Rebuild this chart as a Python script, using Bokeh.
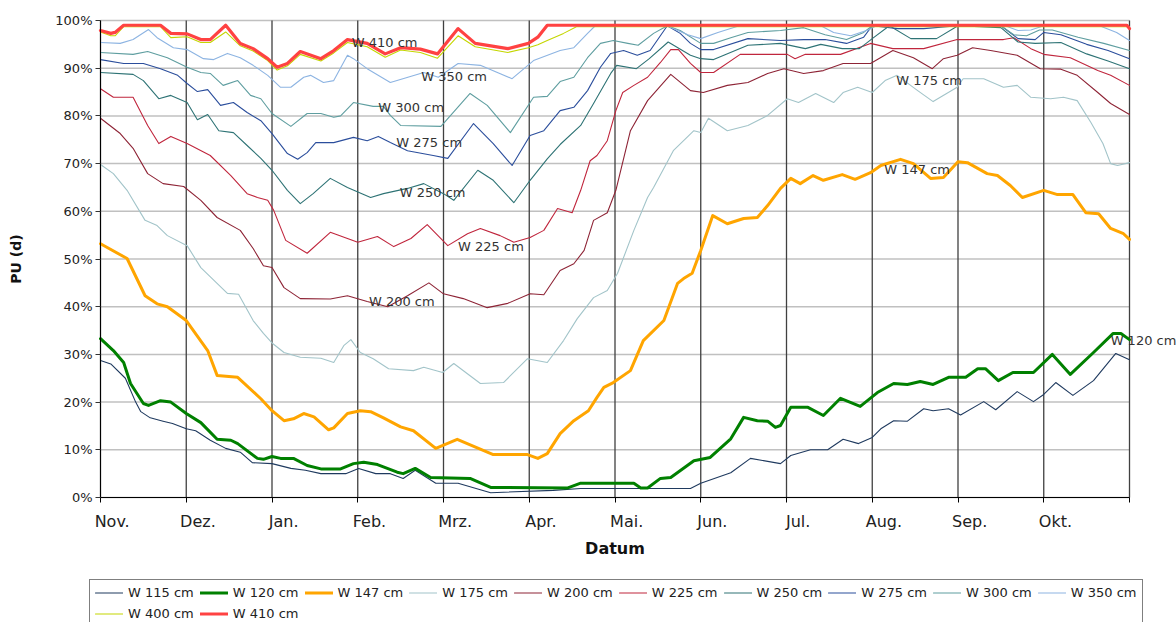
from bokeh.plotting import figure
from bokeh.models import (Range1d, FixedTicker, CustomJSTickFormatter, PrintfTickFormatter,
                          Legend, LegendItem, LabelSet, ColumnDataSource)
from bokeh.core.properties import value
from bokeh.embed import file_html
from bokeh.resources import INLINE

# ---------------- data (x = months since 1 Nov, y = percent) ----------------
months = ["Nov.", "Dez.", "Jan.", "Feb.", "Mrz.", "Apr.", "Mai.", "Jun.", "Jul.", "Aug.", "Sep.", "Okt."]
y_ticks = [0, 10, 20, 30, 40, 50, 60, 70, 80, 90, 100]

names = ["W 115 cm", "W 120 cm", "W 147 cm", "W 175 cm", "W 200 cm", "W 225 cm",
         "W 250 cm", "W 275 cm", "W 300 cm", "W 350 cm", "W 400 cm", "W 410 cm"]

x115 = [0, 0.12, 0.29, 0.41, 0.47, 0.58, 0.73, 0.84, 1.0, 1.11, 1.28, 1.46, 1.63, 1.77, 2.0, 2.22, 2.39, 2.57,
        2.86, 3.01, 3.21, 3.38, 3.53, 3.67, 3.91, 4.17, 4.55, 5.28, 5.6, 6.88, 7.0, 7.35, 7.58, 7.93, 8.05, 8.28,
        8.48, 8.66, 8.84, 9.0, 9.1, 9.25, 9.41, 9.6, 9.71, 9.89, 10.03, 10.3, 10.44, 10.69, 10.88, 11.0, 11.14,
        11.34, 11.58, 11.84, 12.0]
y115 = [28.7, 28, 25, 20, 18, 16.7, 16, 15.5, 14.4, 14, 12, 10.3, 9.5, 7.3, 7.1, 6.1, 5.7, 5, 5, 6.1, 5, 5, 4,
        5.7, 3, 3, 1, 1.5, 1.9, 1.9, 3, 5.2, 8.2, 7.1, 8.8, 10, 10, 12.2, 11.3, 12.6, 14.4, 16.1, 16, 18.6, 18.2,
        18.6, 17.3, 20.1, 18.4, 22.2, 20.1, 21.6, 24.1, 21.4, 24.5, 30.2, 28.9]

x120 = [0, 0.15, 0.27, 0.35, 0.5, 0.56, 0.7, 0.82, 1.0, 1.17, 1.36, 1.52, 1.6, 1.83, 1.9, 2.0, 2.1, 2.25, 2.41,
        2.57, 2.8, 2.95, 3.07, 3.23, 3.46, 3.53, 3.67, 3.85, 4.31, 4.55, 5.45, 5.6, 6.22, 6.3, 6.38, 6.53, 6.65,
        6.92, 7.11, 7.35, 7.5, 7.66, 7.78, 7.87, 7.93, 8.05, 8.25, 8.43, 8.63, 8.86, 9.06, 9.25, 9.41, 9.56, 9.71,
        9.89, 10.09, 10.23, 10.32, 10.47, 10.64, 10.88, 11.1, 11.31, 11.58, 11.81, 11.9, 12.0]
y120 = [33.3, 30.8, 28.3, 23.9, 19.7, 19.3, 20.3, 20, 17.6, 15.7, 12.2, 12, 11.3, 8.2, 8, 8.6, 8.2, 8.2, 6.7, 6,
        6, 7.1, 7.4, 6.9, 5.3, 5, 6.1, 4.2, 4, 2.1, 2, 3, 3, 2, 2, 4, 4.2, 7.7, 8.4, 12.3, 16.8, 16.1, 16, 14.7,
        15.1, 18.9, 18.9, 17.2, 20.8, 19.1, 22, 23.9, 23.7, 24.3, 23.7, 25.2, 25.2, 27, 27, 24.5, 26.2, 26.2, 30,
        25.8, 30.4, 34.4, 34.4, 33.1]

x147 = [0, 0.31, 0.52, 0.66, 0.78, 1.0, 1.25, 1.36, 1.6, 1.87, 2.0, 2.14, 2.25, 2.37, 2.49, 2.66, 2.72, 2.88,
        3.03, 3.15, 3.3, 3.5, 3.65, 3.91, 4.16, 4.58, 4.98, 5.1, 5.21, 5.36, 5.52, 5.69, 5.79, 5.87, 5.98, 6.18,
        6.33, 6.57, 6.73, 6.8, 6.9, 7.0, 7.14, 7.31, 7.5, 7.66, 7.78, 7.93, 8.05, 8.16, 8.31, 8.43, 8.65, 8.8,
        8.98, 9.1, 9.33, 9.48, 9.68, 9.83, 10.0, 10.11, 10.34, 10.46, 10.61, 10.75, 11.0, 11.16, 11.34, 11.49,
        11.64, 11.78, 11.93, 12.0]
y147 = [53.2, 50.1, 42.3, 40.6, 40, 37.1, 30.8, 25.6, 25.2, 20.7, 18.2, 16.1, 16.5, 17.6, 16.9, 14.2, 14.6, 17.6,
        18.2, 18, 16.7, 14.8, 14, 10.3, 12.2, 9, 9, 8.2, 9.2, 13.4, 16.1, 18.2, 21, 23.1, 24.1, 26.6, 32.9, 37.1,
        44.9, 45.9, 47, 51.8, 59.1, 57.4, 58.5, 58.7, 61.2, 64.8, 66.9, 65.8, 67.5, 66.5, 67.7, 66.7, 68.1, 69.6,
        70.9, 70, 66.9, 67.1, 70.4, 70.2, 67.9, 67.5, 65.4, 62.9, 64.4, 63.5, 63.5, 59.7, 59.5, 56.4, 55.3, 54.1]

x175 = [0, 0.15, 0.31, 0.52, 0.66, 0.78, 1.01, 1.17, 1.48, 1.61, 1.78, 1.9, 2.0, 2.14, 2.33, 2.57, 2.72, 2.84,
        2.92, 3.03, 3.18, 3.36, 3.65, 3.77, 3.99, 4.12, 4.43, 4.7, 4.98, 5.21, 5.4, 5.56, 5.75, 5.91, 6.03, 6.22,
        6.38, 6.45, 6.68, 6.92, 7.0, 7.09, 7.31, 7.55, 7.78, 8.01, 8.14, 8.34, 8.55, 8.66, 8.83, 9.0, 9.15, 9.29,
        9.53, 9.71, 9.99, 10.06, 10.3, 10.53, 10.69, 10.85, 11.08, 11.23, 11.39, 11.55, 11.69, 11.78, 11.86, 12.0]
y175 = [69.8, 67.9, 64.4, 58.1, 57, 54.9, 52.8, 48.2, 42.8, 42.6, 37.1, 34.4, 32.4, 30.4, 29.4, 29.2, 28.3, 31.9,
        33.1, 30.4, 29.1, 27, 26.6, 27.3, 26.2, 28.1, 23.9, 24.1, 29.1, 28.3, 32.9, 37.5, 41.9, 43.4, 47, 56, 62.9,
        65, 72.7, 76.9, 76.5, 79.5, 76.9, 78, 80.1, 83.6, 82.8, 84.7, 82.8, 84.9, 86, 84.9, 87.4, 88.5, 85.3, 83,
        86, 87.8, 87.8, 86, 86.4, 83.9, 83.6, 83.9, 83.2, 78.6, 74.2, 70, 69.6, 70.2]

x200 = [0, 0.23, 0.38, 0.55, 0.73, 0.97, 1.17, 1.36, 1.63, 1.78, 1.9, 2.0, 2.14, 2.33, 2.68, 2.88, 3.11, 3.35,
        3.58, 3.83, 4.0, 4.23, 4.51, 4.75, 5.01, 5.17, 5.36, 5.52, 5.64, 5.75, 5.91, 6.01, 6.18, 6.38, 6.65, 6.88,
        7.03, 7.31, 7.55, 7.78, 7.97, 8.2, 8.43, 8.66, 8.98, 9.24, 9.48, 9.7, 9.83, 9.99, 10.17, 10.38, 10.69,
        10.96, 11.2, 11.39, 11.63, 11.78, 12.0]
y200 = [79.5, 76.3, 73.2, 67.9, 65.8, 65.2, 62.3, 58.7, 56, 52.2, 48.6, 48.2, 44, 41.7, 41.6, 42.3, 41.1, 40,
        42.3, 45, 42.7, 41.7, 39.8, 40.7, 42.7, 42.5, 47.6, 49, 51.8, 58.1, 59.7, 64.4, 76.9, 83.2, 88.7, 85.3,
        84.9, 86.4, 87, 88.9, 89.9, 88.9, 89.5, 91, 91, 93.7, 92.2, 89.9, 92, 92.7, 94.3, 93.7, 92.7, 89.9, 89.8,
        88.5, 84.9, 82.6, 80.3]

x225 = [0, 0.15, 0.38, 0.55, 0.68, 0.82, 1.01, 1.28, 1.52, 1.71, 1.83, 1.95, 2.02, 2.16, 2.41, 2.68, 3.0, 3.23,
        3.42, 3.62, 3.81, 4.05, 4.28, 4.43, 4.66, 4.82, 5.01, 5.17, 5.33, 5.5, 5.6, 5.71, 5.79, 5.91, 6.01, 6.09,
        6.22, 6.38, 6.53, 6.65, 6.74, 6.88, 7.0, 7.15, 7.46, 8.01, 8.1, 8.22, 8.63, 8.98, 9.24, 9.6, 9.99, 10.53,
        10.65, 10.85, 11.0, 11.31, 11.63, 11.78, 12.0]
y225 = [85.7, 83.9, 83.9, 78, 74.2, 75.7, 74.2, 71.7, 67.5, 63.7, 62.9, 62.3, 60.2, 53.9, 51.2, 55.6, 53.5, 54.7,
        52.6, 54.3, 57.2, 52.8, 55.3, 56.4, 54.9, 53.5, 54.5, 56, 60.6, 59.7, 64.4, 70.6, 71.7, 74.8, 81.1, 84.9,
        86.4, 88.1, 91.2, 93.9, 93.9, 91, 89.1, 89.1, 92.9, 92.9, 92, 92.9, 92.9, 95.2, 94.1, 94.1, 96, 96, 96.4,
        94.1, 92.9, 92.2, 89.5, 88.5, 86.4]

x250 = [0, 0.38, 0.5, 0.68, 0.82, 1.01, 1.13, 1.25, 1.38, 1.55, 1.71, 1.87, 2.0, 2.18, 2.33, 2.48, 2.68, 2.88,
        3.15, 3.3, 3.58, 3.77, 4.0, 4.12, 4.4, 4.58, 4.82, 5.01, 5.21, 5.36, 5.6, 5.75, 5.95, 6.02, 6.25, 6.4,
        6.62, 6.88, 7.0, 7.15, 7.55, 7.93, 8.22, 8.4, 8.65, 8.85, 9.0, 9.2, 9.45, 9.75, 10.0, 10.5, 10.7, 10.9,
        11.2, 11.5, 11.75, 12.0]
y250 = [89.1, 88.7, 87.4, 83.6, 84.3, 82.8, 79.2, 80.3, 76.9, 76.5, 73.8, 71.1, 68.6, 64.4, 61.6, 63.7, 66.9, 65,
        62.9, 63.7, 64.8, 65.8, 63.7, 62.3, 68.6, 66.5, 61.8, 66.5, 71, 74, 78, 82.6, 88.9, 90.6, 89.9, 92, 95.5,
        92.7, 92, 91.8, 94.8, 95.2, 94.1, 95, 94.1, 94.1, 96.2, 98.9, 96.2, 96.2, 98.9, 98.5, 95.5, 95.2, 95.4, 93,
        91.5, 89.9]

x275 = [0, 0.27, 0.5, 0.7, 0.9, 1.01, 1.13, 1.25, 1.4, 1.55, 1.71, 1.87, 2.0, 2.18, 2.3, 2.41, 2.51, 2.72, 2.95,
        3.11, 3.24, 3.38, 3.58, 3.88, 4.05, 4.35, 4.58, 4.8, 5.01, 5.17, 5.36, 5.52, 5.68, 5.83, 5.95, 6.1, 6.26,
        6.41, 6.61, 6.76, 6.88, 7.0, 7.15, 7.55, 7.93, 8.2, 8.45, 8.7, 8.9, 9.0, 9.3, 9.6, 10.0, 10.5, 10.7, 10.9,
        11.0, 11.2, 11.5, 11.75, 12.0]
y275 = [91.8, 91, 91, 89.9, 88.5, 86.8, 85.1, 85.5, 82.2, 82.8, 80.7, 79, 76.3, 72.1, 70.9, 72.3, 74.4, 74.4,
        75.5, 74.8, 75.7, 74.4, 72.7, 71.7, 71.1, 78.4, 74.2, 69.6, 75.9, 76.9, 81.1, 81.8, 85.3, 90.2, 93.1, 93.7,
        92.7, 93.7, 98.9, 97.3, 95.2, 93.9, 93.9, 96.2, 95.8, 96, 96, 95.2, 96.5, 98.9, 98.3, 98.3, 98.9, 98.9,
        96.2, 96, 97.5, 97, 95, 93.7, 92]

x300 = [0, 0.38, 0.55, 0.78, 1.01, 1.17, 1.28, 1.43, 1.6, 1.75, 1.87, 2.0, 2.22, 2.41, 2.57, 2.72, 2.8, 2.95,
        3.18, 3.3, 3.38, 3.5, 3.97, 4.31, 4.51, 4.78, 5.05, 5.21, 5.36, 5.52, 5.68, 5.83, 5.98, 6.15, 6.27, 6.45,
        6.61, 6.76, 7.0, 7.15, 7.35, 7.55, 7.93, 8.2, 8.45, 8.7, 8.9, 9.0, 10.5, 10.65, 10.8, 10.95, 11.1, 11.4,
        11.7, 12.0]
y300 = [93.3, 92.9, 93.5, 92.2, 90.2, 89.1, 88.9, 86.4, 87.4, 84.3, 83.6, 80.5, 77.8, 80.5, 80.5, 79.7, 80, 82.8,
        82, 82, 80.1, 78, 77.8, 84.7, 82.2, 76.5, 83.9, 84.1, 87.2, 88.1, 92.2, 95.2, 95.8, 95.2, 94.8, 97.3, 98.9,
        97.9, 95.2, 95.2, 96.4, 97.5, 97.9, 98.5, 97, 96, 97.5, 98.9, 98.9, 97, 96.8, 98, 98, 96.5, 95.2, 93.7]

x350 = [0, 0.23, 0.38, 0.56, 0.66, 0.85, 1.01, 1.2, 1.32, 1.48, 1.63, 1.78, 1.95, 2.1, 2.22, 2.37, 2.45, 2.6,
        2.72, 2.88, 2.95, 3.11, 3.38, 3.77, 3.94, 4.17, 4.43, 4.8, 5.05, 5.36, 5.52, 5.68, 5.77, 6.6, 6.85, 7.0,
        7.2, 7.45, 8.4, 8.55, 8.75, 8.95, 9.05, 10.55, 10.7, 10.85, 11.0, 11.65, 11.85, 12.0]
y350 = [95.4, 95.2, 96, 98.1, 96.4, 94.3, 93.9, 92, 91.8, 93.1, 92.2, 90.6, 88.5, 86, 86, 88.1, 88.5, 87, 87.4,
        92.7, 92, 89.9, 87, 89.1, 88.1, 91, 90.6, 87.8, 91.6, 93.7, 94.3, 97.3, 98.9, 98.9, 97, 96.2, 97.5, 98.9,
        98.9, 97.5, 96.8, 98, 98.9, 98.9, 97.9, 98, 98.9, 98.9, 97.5, 95.8]

x400 = [0, 0.12, 0.17, 0.27, 0.7, 0.82, 1.01, 1.17, 1.28, 1.46, 1.63, 1.78, 1.95, 2.06, 2.18, 2.33, 2.57, 2.72,
        2.88, 3.11, 3.32, 3.5, 3.73, 3.93, 4.17, 4.37, 4.75, 4.99, 5.1, 5.21, 5.4, 5.55, 12.0]
y400 = [97.6, 96.8, 96.8, 98.7, 98.7, 96.4, 96.6, 95.4, 95.4, 97.6, 94.7, 93.6, 91.6, 89.6, 90.5, 92.9, 91.5,
        93.2, 95.4, 94.5, 92.3, 93.8, 93.3, 92.1, 96.8, 94.5, 93.3, 94.3, 94.9, 95.8, 97.3, 98.7, 98.7]

x410 = [0, 0.12, 0.17, 0.27, 0.7, 0.82, 1.01, 1.17, 1.28, 1.46, 1.63, 1.78, 1.95, 2.06, 2.18, 2.33, 2.57, 2.72,
        2.88, 3.11, 3.32, 3.5, 3.73, 3.93, 4.17, 4.37, 4.75, 4.99, 5.1, 5.21, 11.97, 12.0]
y410 = [97.9, 97.3, 97.5, 99, 99, 97.3, 97.2, 96, 96, 99, 95.2, 94.1, 92, 90.2, 91, 93.5, 92, 93.7, 96, 95.2, 93,
        94.3, 94, 93, 98.3, 95.2, 94.1, 95.2, 96.5, 99, 99, 98.3]

series_x = [x115, x120, x147, x175, x200, x225, x250, x275, x300, x350, x400, x410]
series_y = [y115, y120, y147, y175, y200, y225, y250, y275, y300, y350, y400, y410]

# inline series labels
lbl_text = ["W 410 cm", "W 350 cm", "W 300 cm", "W 275 cm", "W 250 cm", "W 225 cm", "W 200 cm",
            "W 175 cm", "W 147 cm", "W 120 cm"]
lbl_x = [2.93, 3.74, 3.24, 3.45, 3.49, 4.17, 3.13, 9.28, 9.14, 11.78]
lbl_y = [95.4, 88.3, 81.8, 74.4, 63.9, 52.6, 41.1, 87.4, 68.8, 32.9]

# ---------------- styles / layout ----------------
colors = ["#1F3A5F", "#008000", "#FFA500", "#A2C4C9", "#8E2436", "#C0263D",
          "#2E7375", "#2B4E9C", "#5F9EA0", "#8DB4E2", "#C4D600", "#FF4242"]
widths = [1.1, 3, 3, 1.1, 1.1, 1.1, 1.1, 1.1, 1.1, 1.1, 1.1, 3.2]
FONT = "DejaVu Sans"
label_off = 0.136
n_months = len(months)
W, H = 1176, 622
plot_left, plot_top = 100, 20          # pixel position of the data area's top-left corner
plot_w, plot_h = 1029, 477             # pixel size of the data area (12 months x 0..100 %)
px_x = plot_w / n_months
px_y = plot_h / 100.0
x_start, x_end = -plot_left / px_x, (W - plot_left) / px_x
y_start, y_end = -(H - plot_top - plot_h) / px_y, 100 + plot_top / px_y
y_lo, y_hi = y_ticks[0], y_ticks[-1]

p = figure(width=W, height=H, output_backend="svg", toolbar_location=None, title=None,
           x_range=Range1d(x_start, x_end), y_range=Range1d(y_start, y_end),
           min_border=0, min_border_left=0, min_border_right=0, min_border_top=0, min_border_bottom=0)
p.background_fill_color = "white"
p.border_fill_color = "white"
p.outline_line_color = None
p.xgrid.visible = False
p.ygrid.visible = False

# grid lines limited to the data area (from the tick lists)
month_edges = list(range(n_months + 1))
p.segment(x0=[0] * len(y_ticks), x1=[n_months] * len(y_ticks), y0=y_ticks, y1=y_ticks,
          line_color="#C0C0C0", line_width=1.5, level="underlay")
p.segment(x0=month_edges, x1=month_edges, y0=[y_lo] * len(month_edges), y1=[y_hi] * len(month_edges),
          line_color="#404040", line_width=1.3, level="underlay")

# x axis (fixed at y = 0)
xa = p.xaxis[0]
xa.fixed_location = 0
xa.bounds = (0, n_months)
xa.ticker = FixedTicker(ticks=[i + label_off for i in range(n_months)], minor_ticks=month_edges)
xa.formatter = CustomJSTickFormatter(args=dict(labels=months, off=label_off),
                                     code="const i = Math.round(tick - off); return (i >= 0 && i < labels.length) ? labels[i] : '';")
xa.major_tick_out = 0
xa.major_tick_in = 0
xa.minor_tick_out = 5
xa.minor_tick_in = 0
xa.minor_tick_line_color = "black"
xa.major_label_standoff = 9
xa.major_label_text_font = FONT
xa.major_label_text_font_size = "16px"
xa.major_label_text_color = "#222222"
xa.axis_line_color = "black"
xa.axis_label = "Datum"
xa.axis_label_text_font = FONT
xa.axis_label_text_font_size = "16px"
xa.axis_label_text_font_style = "bold"
xa.axis_label_text_color = "#111111"
xa.axis_label_standoff = 5

# y axis (fixed at x = 0)
ya = p.yaxis[0]
ya.fixed_location = 0
ya.bounds = (y_lo, y_hi)
ya.ticker = FixedTicker(ticks=y_ticks, minor_ticks=[])
ya.formatter = PrintfTickFormatter(format="%d%%")
ya.major_tick_out = 5
ya.major_tick_in = 0
ya.minor_tick_out = 0
ya.minor_tick_in = 0
ya.major_tick_line_color = "#333333"
ya.major_label_standoff = 3
ya.major_label_text_font = FONT
ya.major_label_text_font_size = "13px"
ya.major_label_text_color = "#222222"
ya.axis_line_color = "black"
ya.axis_label = "PU (d)"
ya.axis_label_text_font = FONT
ya.axis_label_text_font_size = "14px"
ya.axis_label_text_font_style = "bold"
ya.axis_label_text_color = "#111111"
ya.axis_label_standoff = 28

# lines
renderers = []
for xs, ys, c, w in zip(series_x, series_y, colors, widths):
    n = min(len(xs), len(ys))
    r = p.line(xs[:n], ys[:n], line_color=c, line_width=w, line_join="round", line_cap="round")
    renderers.append(r)

# inline labels
lsrc = ColumnDataSource(dict(x=lbl_x, y=lbl_y, text=lbl_text))
p.add_layout(LabelSet(x="x", y="y", text="text", source=lsrc, text_font=value(FONT),
                      text_font_size=value("13px"), text_color="#333333",
                      text_align="left", text_baseline="middle"))

# legend at the bottom of the page
items = [LegendItem(label=nm, renderers=[r]) for nm, r in zip(names, renderers)]
legend = Legend(items=items, orientation="horizontal", ncols=10, location=(89, -5),
                label_text_font=FONT, label_text_font_size="13px", label_text_color="#222222",
                glyph_width=28, glyph_height=15, label_height=15, label_standoff=5,
                spacing=6, padding=5, margin=0,
                border_line_color="black", border_line_width=1, background_fill_color="white",
                background_fill_alpha=1.0)
p.add_layout(legend)

open("out.html", "w").write(file_html(p, INLINE))
